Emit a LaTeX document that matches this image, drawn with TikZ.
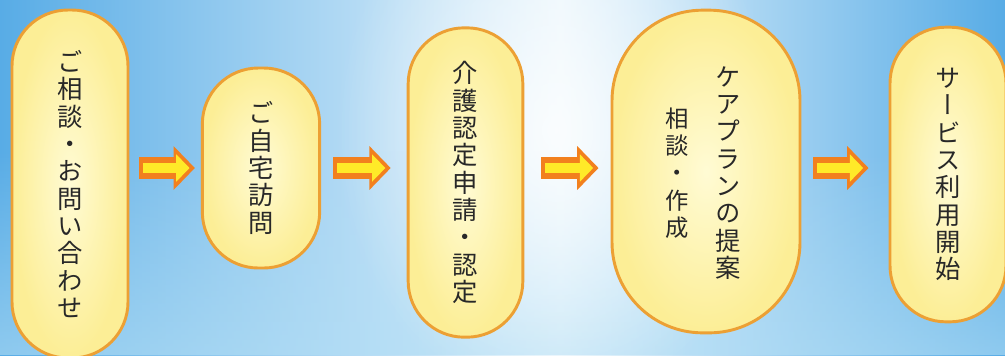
\documentclass[tikz,border=0pt]{standalone}
\usepackage{fontspec}
\newfontfamily\jp[RawFeature=+vert]{Noto Sans CJK JP}
\usetikzlibrary{arrows.meta, fadings, calc}

\definecolor{bgside}{RGB}{88,172,230}
\definecolor{bgmid}{RGB}{232,245,252}
\definecolor{bgpale}{RGB}{178,222,245}
\definecolor{boxedge}{RGB}{236,160,52}
\definecolor{boxcore}{RGB}{255,251,212}
\definecolor{boxrim}{RGB}{252,238,150}
\definecolor{arrowedge}{RGB}{242,128,30}
\definecolor{arrowcore}{RGB}{255,234,40}
\definecolor{inktext}{RGB}{40,40,40}

\tikzfading[name=glowfade, inner color=transparent!0, outer color=transparent!100]

\tikzset{
    stepbox/.style={draw=boxedge, line width=2.2pt, inner color=boxcore, outer color=boxrim,
        rounded corners=42pt, inner sep=0pt, align=center, text=inktext,
        font=\jp\fontsize{19}{20.5}\selectfont},
    vlabel/.style={align=center, text=inktext, inner sep=0pt,
        font=\jp\fontsize{19}{20.5}\selectfont},
    flowedge/.style={-{Triangle[length=16pt, width=32pt]}, line width=17pt, draw=arrowedge},
    flowcore/.style={-{Triangle[length=10pt, width=20pt]}, line width=8pt, draw=arrowcore,
        shorten <=3pt, shorten >=4pt}
}

\begin{document}
\begin{tikzpicture}[x=0.75pt, y=-0.75pt]
    \useasboundingbox (0,0) rectangle (1005,355);

    % Background
    \shade [left color=bgside, right color=bgmid] (0,0) rectangle (560,355);
    \shade [left color=bgmid, right color=bgside] (560,0) rectangle (1005,355);
    \fill [bgpale, opacity=0.6, path fading=north] (0,150) rectangle (1005,355);
    \fill [white, opacity=0.8, path fading=glowfade] (555,130) ellipse [x radius=165pt, y radius=210pt];

    % Steps
    \node [stepbox, minimum width=87pt, minimum height=261pt] (consult) at (70,184)
        {ご\\相\\談\\・\\お\\問\\い\\合\\わ\\せ};
    \node [stepbox, minimum width=88pt, minimum height=150pt] (visit) at (261,168)
        {ご\\自\\宅\\訪\\問};
    \node [stepbox, minimum width=86pt, minimum height=232pt] (apply) at (465.5,182.5)
        {介\\護\\認\\定\\申\\請\\・\\認\\定};
    \node [stepbox, minimum width=141pt, minimum height=242pt, rounded corners=68pt] (plan) at (706,171.5) {};
    \node [vlabel] (plantitle) at (728,173) {ケ\\ア\\プ\\ラ\\ン\\の\\提\\案};
    \node [vlabel, font=\jp\fontsize{17.5}{20.5}\selectfont] (plannote) at (677,173) {相\\談\\・\\作\\成};
    \node [stepbox, minimum width=87pt, minimum height=221pt] (start) at (948,174.5)
        {サ\\ー\\ビ\\ス\\利\\用\\開\\始};

    % Arrows
    \draw [flowedge] ($(consult.east |- visit.center)+(10,0)$) -- ($(visit.west)+(-6,0)$);
    \draw [flowcore] ($(consult.east |- visit.center)+(10,0)$) -- ($(visit.west)+(-6,0)$);
    \draw [flowedge] ($(visit.east)+(12,0)$) -- ($(apply.west |- visit.center)+(-16,0)$);
    \draw [flowcore] ($(visit.east)+(12,0)$) -- ($(apply.west |- visit.center)+(-16,0)$);
    \draw [flowedge] ($(apply.east |- visit.center)+(17,0)$) -- ($(plan.west |- visit.center)+(-12,0)$);
    \draw [flowcore] ($(apply.east |- visit.center)+(17,0)$) -- ($(plan.west |- visit.center)+(-12,0)$);
    \draw [flowedge] ($(plan.east |- visit.center)+(12,0)$) -- ($(start.west |- visit.center)+(-20,0)$);
    \draw [flowcore] ($(plan.east |- visit.center)+(12,0)$) -- ($(start.west |- visit.center)+(-20,0)$);

\end{tikzpicture}
\end{document}
